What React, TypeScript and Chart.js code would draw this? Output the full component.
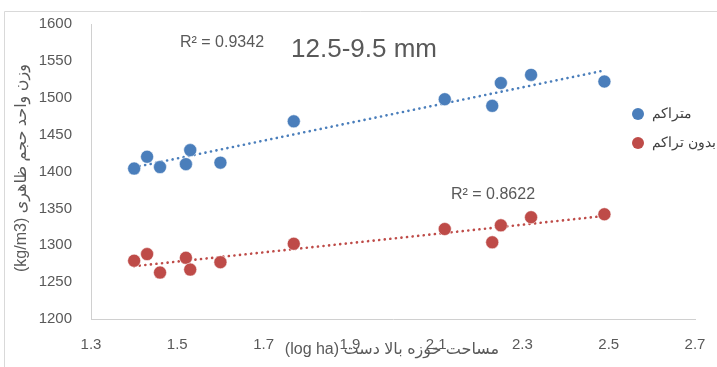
import React, { useEffect, useRef } from 'react';
import { Chart, registerables } from 'chart.js';

Chart.register(...registerables);

// ---- data ----
const areaLog = [1.4, 1.43, 1.46, 1.52, 1.53, 1.6, 1.77, 2.12, 2.23, 2.25, 2.32, 2.49];
const accumulated = [1404, 1420, 1406, 1410, 1429, 1412, 1468, 1498, 1489, 1520, 1531, 1522];
const nonAccumulated = [1279, 1288, 1263, 1283, 1267, 1277, 1302, 1322, 1304, 1327, 1338, 1342];
const seriesNames = ['متراكم', 'بدون تراكم'];
const r2Labels = ['R² = 0.9342', 'R² = 0.8622'];
const chartTitle = '12.5-9.5 mm';
const xTitle = 'مساحت حوزه بالا دست (log ha)';
const yTitle = 'وزن واحد حجم ظاهری (kg/m3)';
const xMin = 1.3, xMax = 2.7, xStep = 0.2;
const yMin = 1200, yMax = 1600, yStep = 50;

const BLUE = '#4a7ebb';
const RED = '#be4b48';

function trend(xs: number[], ys: number[]) {
  const n = xs.length;
  const mx = xs.reduce((a, b) => a + b, 0) / n;
  const my = ys.reduce((a, b) => a + b, 0) / n;
  let sxy = 0, sxx = 0;
  for (let i = 0; i < n; i++) {
    sxy += (xs[i] - mx) * (ys[i] - my);
    sxx += (xs[i] - mx) * (xs[i] - mx);
  }
  const b = sxy / sxx;
  const a = my - b * mx;
  const x0 = Math.min(...xs), x1 = Math.max(...xs);
  return [{ x: x0, y: a + b * x0 }, { x: x1, y: a + b * x1 }];
}

const overlay = {
  id: 'overlay',
  beforeDraw(chart: any) {
    const ctx = chart.ctx;
    ctx.save();
    ctx.fillStyle = '#ffffff';
    ctx.fillRect(0, 0, chart.width, chart.height);
    ctx.strokeStyle = '#d9d9d9';
    ctx.lineWidth = 1;
    ctx.beginPath();
    ctx.moveTo(4.5, chart.height);
    ctx.lineTo(4.5, 11.5);
    ctx.lineTo(chart.width, 11.5);
    ctx.stroke();
    ctx.restore();
  },
  afterDraw(chart: any) {
    const ctx = chart.ctx;
    ctx.save();
    ctx.fillStyle = '#595959';
    ctx.textBaseline = 'middle';
    ctx.textAlign = 'center';
    ctx.direction = 'ltr';
    ctx.font = '26px "Liberation Sans", Arial, sans-serif';
    ctx.fillText(chartTitle, 364, 50);
    ctx.font = '16px "Liberation Sans", Arial, sans-serif';
    ctx.fillText(r2Labels[0], 222, 43);
    ctx.fillText(r2Labels[1], 493, 195);

    // axis titles
    ctx.font = '16px "Liberation Sans", "DejaVu Sans", sans-serif';
    ctx.direction = 'rtl';
    ctx.fillText(xTitle, 392, 350);
    ctx.save();
    ctx.translate(22, 168);
    ctx.rotate(-Math.PI / 2);
    ctx.fillText(yTitle, 0, 0);
    ctx.restore();

    // legend
    const colors = [BLUE, RED];
    const ys = [114, 143];
    ctx.font = '14px "Times New Roman", "DejaVu Serif", serif';
    ctx.direction = 'rtl';
    for (let i = 0; i < 2; i++) {
      ctx.beginPath();
      ctx.arc(638, ys[i], 6, 0, Math.PI * 2);
      ctx.fillStyle = colors[i];
      ctx.fill();
      ctx.fillStyle = '#404040';
      ctx.textAlign = 'right';
      const w = ctx.measureText(seriesNames[i]).width;
      ctx.fillText(seriesNames[i], 652 + w, ys[i]);
    }
    ctx.restore();
  },
};

export default function App() {
  const ref = useRef<HTMLCanvasElement>(null);
  useEffect(() => {
    if (!ref.current) return;
    const pts = (ys: number[]) => areaLog.map((x, i) => ({ x, y: ys[i] }));
    const chart = new Chart(ref.current, {
      type: 'scatter',
      data: {
        datasets: [
          {
            label: seriesNames[0],
            data: pts(accumulated),
            backgroundColor: BLUE,
            borderColor: '#ffffff',
            borderWidth: 0.5,
            pointRadius: 6.5,
            order: 0,
          },
          {
            label: seriesNames[1],
            data: pts(nonAccumulated),
            backgroundColor: RED,
            borderColor: '#ffffff',
            borderWidth: 0.5,
            pointRadius: 6.5,
            order: 0,
          },
          {
            label: 'trend1',
            type: 'line',
            data: trend(areaLog, accumulated),
            borderColor: BLUE,
            borderWidth: 2.6,
            borderDash: [0.1, 5.5],
            borderCapStyle: 'round',
            pointRadius: 0,
            fill: false,
            order: 1,
          } as any,
          {
            label: 'trend2',
            type: 'line',
            data: trend(areaLog, nonAccumulated),
            borderColor: RED,
            borderWidth: 2.6,
            borderDash: [0.1, 5.5],
            borderCapStyle: 'round',
            pointRadius: 0,
            fill: false,
            order: 1,
          } as any,
        ],
      },
      options: {
        animation: false,
        responsive: false,
        layout: { padding: { left: 0, right: 22, top: 24, bottom: 0 } },
        plugins: { legend: { display: false }, tooltip: { enabled: false } },
        scales: {
          x: {
            type: 'linear',
            min: xMin,
            max: xMax,
            grid: { display: false, drawTicks: false },
            border: { display: true, color: '#d0d0d0', width: 1 },
            ticks: {
              stepSize: xStep,
              padding: 17,
              color: '#595959',
              font: { family: '"Liberation Sans", Arial, sans-serif', size: 15 },
              callback: (v: any) => Number(v).toFixed(1),
            },
            afterFit: (s: any) => {
              s.height = 48;
              s.paddingLeft = 0;
              s.paddingRight = 0;
            },
          },
          y: {
            type: 'linear',
            min: yMin,
            max: yMax,
            grid: { display: false, drawTicks: false },
            border: { display: true, color: '#d0d0d0', width: 1 },
            ticks: {
              stepSize: yStep,
              padding: 19,
              color: '#595959',
              font: { family: '"Liberation Sans", Arial, sans-serif', size: 15 },
              callback: (v: any) => String(v),
            },
            afterFit: (s: any) => {
              s.width = 91;
              s.paddingTop = 0;
              s.paddingBottom = 0;
            },
          },
        },
      },
      plugins: [overlay],
    } as any);
    return () => chart.destroy();
  }, []);
  return (
    <div style={{ position: 'fixed', left: 0, top: 0, width: 717, height: 367, overflow: 'hidden' }}>
      <canvas ref={ref} width={717} height={367} style={{ display: 'block' }} />
    </div>
  );
}
